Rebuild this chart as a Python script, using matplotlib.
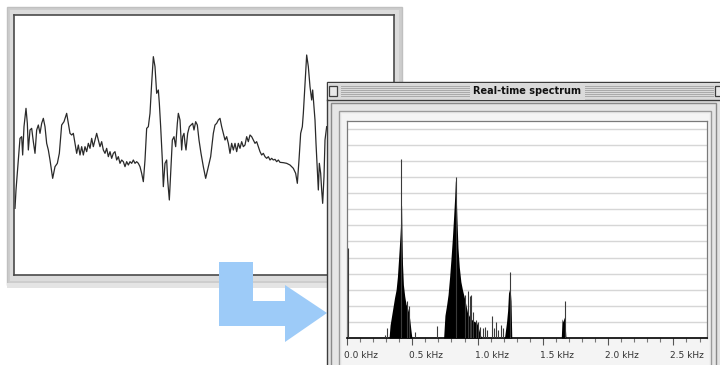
"""
Waveform window feeding a real-time spectrum window (illustration).
"""

import matplotlib
matplotlib.use("Agg")
import matplotlib.pyplot as plt
import matplotlib.transforms as mtrans
from matplotlib.patches import Rectangle, Polygon

W, H = 720, 365

# --- waveform (sample index, amplitude) ---
wave_t = [45, 48, 55, 60, 65, 68, 72, 78, 82, 85, 90, 95, 100, 105, 110, 115, 120, 125,
          130, 135, 140, 145, 150, 158, 165, 172, 178, 185, 192, 200, 205, 210, 215, 220,
          225, 230, 235, 240, 245, 250, 255, 260, 265, 270, 275, 280, 285, 290, 295, 300,
          305, 310, 315, 320, 325, 330, 335, 340, 345, 350, 355, 360, 365, 370, 375, 380,
          385, 390, 395, 400, 405, 410, 415, 420, 425, 430, 435, 440, 445, 450, 455, 460,
          465, 470, 475, 478, 482, 487, 490, 495, 500, 503, 508, 512, 517, 522, 527, 532,
          535, 540, 545, 548, 552, 555, 558, 563, 568, 573, 578, 582, 587, 592, 597, 603,
          610, 617, 625, 632, 640, 645, 650, 655, 660, 665, 670, 675, 680, 685, 690, 695,
          700, 705, 710, 715, 720, 725, 730, 735, 740, 745, 750, 755, 760, 765, 770, 775,
          780, 785, 790, 795, 800, 805, 810, 815, 820, 825, 830, 835, 840, 850, 860, 870,
          880, 887, 892, 897, 902, 907, 910, 915, 920, 925, 930, 935, 938, 942, 945, 948,
          952, 955, 958, 962, 965, 968, 972, 975, 980]
wave_amp = [-175, -120, -30, 35, 40, -15, 70, 125, 80, 0, 60, 65, 25, -10, 60, 75, 50, 80,
            95, 70, 20, 0, -30, -85, -50, -40, -10, 75, 85, 110, 80, 50, 45, 50,
            20, -10, 15, -15, 10, -15, 10, -5, 20, 5, 35, 10, 30, 50, 30, 10,
            25, 0, -10, 5, -20, -5, -25, -10, -5, -30, -20, -40, -30, -35, -50, -35,
            -45, -35, -40, -30, -40, -35, -40, -50, -70, -95, -30, 65, 70, 110, 200, 280,
            250, 170, 180, 140, 70, -30, -110, -40, -30, -90, -150, -70, 30, 40, 10, 80,
            110, 90, 0, 40, 50, 20, 0, 50, 70, 75, 80, 60, 85, 75, 30, -10,
            -50, -85, -50, -20, 50, 75, 80, 90, 95, 70, 50, 30, 40, 20, -10, 20,
            0, 20, -5, 20, 5, 25, 10, 15, 40, 25, 45, 40, 30, 20, 25, 10,
            -5, -15, -10, -20, -25, -20, -30, -25, -30, -28, -35, -30, -37, -38, -40, -45,
            -55, -70, -100, -30, 50, 70, 110, 200, 285, 250, 190, 150, 180, 130, 90, 20,
            -60, -120, -40, -70, -120, -160, -80, 30, 70]

# --- spectrum: filled peaks (kHz, level) ---
peak1_f = [0.322, 0.330, 0.340, 0.352, 0.364, 0.376, 0.386, 0.394, 0.401, 0.406, 0.411,
           0.414, 0.418, 0.421, 0.425, 0.432, 0.442, 0.452, 0.462, 0.472, 0.480, 0.488,
           0.497]
peak1_h = [0.0, 0.8, 1.3, 1.9, 2.5, 3.0, 3.8, 4.8, 5.7, 6.4, 7.2,
           8.4, 8.2, 6.4, 4.6, 3.3, 2.6, 2.1, 1.9, 1.6, 1.2, 0.6,
           0.0]
peak2_f = [0.740, 0.750, 0.762, 0.774, 0.786, 0.797, 0.807, 0.817, 0.825, 0.830, 0.836,
           0.842, 0.850, 0.860, 0.872, 0.884, 0.896, 0.910, 0.922, 0.940, 0.961, 0.979,
           0.991, 1.004, 1.017, 1.030]
peak2_h = [0.0, 1.4, 2.0, 2.7, 3.8, 5.0, 6.2, 7.6, 8.8, 9.8, 9.0,
           7.4, 5.6, 4.4, 3.5, 3.0, 2.6, 2.1, 1.6, 1.3, 1.1, 1.0,
           1.0, 0.7, 0.3, 0.0]
peak3_f = [1.206, 1.214, 1.222, 1.230, 1.237, 1.244, 1.250, 1.256, 1.262]
peak3_h = [0.0, 0.5, 1.0, 1.7, 2.8, 3.0, 3.0, 2.3, 0.0]
peak4_f = [1.641, 1.647, 1.654, 1.662, 1.670, 1.677]
peak4_h = [0.0, 1.2, 1.0, 1.3, 0.9, 0.0]

# --- spectrum: single spikes (kHz, level) ---
spike_f = [0.004, 0.289, 0.309, 0.416, 0.460, 0.475, 0.524, 0.692, 0.833, 0.900, 0.925,
           0.940, 0.953, 0.966, 0.986, 1.000, 1.020, 1.040, 1.060, 1.075, 1.110, 1.125,
           1.140, 1.160, 1.178, 1.196, 1.250, 1.668]
spike_h = [5.6, 0.2, 0.6, 11.1, 2.3, 2.0, 0.4, 0.77, 10.0, 2.7, 2.9,
           2.6, 2.7, 1.6, 1.1, 1.0, 0.7, 0.6, 0.7, 0.5, 1.35, 0.6,
           1.0, 0.5, 0.8, 0.6, 4.1, 2.3]

tick_khz = [0.0, 0.5, 1.0, 1.5, 2.0, 2.5]
tick_labels = ["0.0 kHz", "0.5 kHz", "1.0 kHz", "1.5 kHz", "2.0 kHz", "2.5 kHz"]

NARROW = ["Liberation Sans Narrow", "DejaVu Sans"]


def px_rect(x0, y0, x1, y1):
    """Pixel box (top-left origin) -> figure fraction rect."""
    return [x0 / W, 1 - y1 / H, (x1 - x0) / W, (y1 - y0) / H]


def overlay(fig, z):
    ax = fig.add_axes([0, 0, 1, 1])
    ax.set_xlim(0, W)
    ax.set_ylim(H, 0)
    ax.axis("off")
    ax.patch.set_alpha(0)
    ax.set_zorder(z)
    return ax


def box(ax, x0, y0, x1, y1, **kw):
    ax.add_patch(Rectangle((x0, y0), x1 - x0, y1 - y0, **kw))


fig = plt.figure(figsize=(W / 100, H / 100), dpi=100, facecolor="white")

# left window frame
back = overlay(fig, 0)
box(back, 7, 7, 402, 285, facecolor="#cdcdcd", edgecolor="#c0c0c0", lw=1)
box(back, 10, 10, 399, 281, facecolor="#dcdcdc", edgecolor="none")
box(back, 7, 283, 402, 288, facecolor="#e4e4e4", edgecolor="none")

# waveform
ax_w = fig.add_axes(px_rect(14, 15, 394, 275))
ax_w.set_zorder(1)
ax_w.plot(wave_t, wave_amp, color="#2a2a2a", lw=0.9)
ax_w.set_xlim(42, 1182)
ax_w.set_ylim(-375, 405)
ax_w.set_xticks([])
ax_w.set_yticks([])
for s in ax_w.spines.values():
    s.set_color("#4a4a4a")
    s.set_linewidth(1.2)

# spectrum window chrome + arrow
front = overlay(fig, 3)
arrow = [(219, 262), (253, 262), (253, 301), (285, 301), (285, 285), (327, 313),
         (285, 342), (285, 326), (219, 326)]
front.add_patch(Polygon(arrow, closed=True, facecolor="#9dcbf8", edgecolor="none"))

box(front, 327, 82, 722, 368, facecolor="#e2e2e2", edgecolor="#3c3c3c", lw=1)
box(front, 328, 83, 722, 99, facecolor="#dadada", edgecolor="none")
for y in range(86, 98, 2):
    front.plot([341, 713], [y, y], color="#a9a9a9", lw=0.7)
box(front, 329, 86, 337, 96, facecolor="#e8e8e8", edgecolor="#3c3c3c", lw=0.9)
box(front, 715, 86, 722, 96, facecolor="#e8e8e8", edgecolor="#3c3c3c", lw=0.9)
front.plot([327, 720], [99.5, 99.5], color="#3c3c3c", lw=1)
front.text(527, 91.5, "Real-time spectrum", ha="center", va="center", fontsize=7,
           fontweight="bold", color="#111111", family=NARROW,
           bbox=dict(facecolor="#dadada", edgecolor="none", pad=2.5))
box(front, 331, 103, 716, 368, facecolor="#e6e6e6", edgecolor="#8a8a8a", lw=1)
box(front, 339, 111, 711, 368, facecolor="#efefef", edgecolor="#9a9a9a", lw=1)
box(front, 342, 114, 709, 368, facecolor="#f4f4f4", edgecolor="none")

# spectrum plot
ax_s = fig.add_axes(px_rect(347, 121, 707, 338))
ax_s.set_zorder(4)
ax_s.set_facecolor("white")
ax_s.set_xlim(0, 2.757)
ax_s.set_ylim(0, 13.48)
for lvl in range(1, 14):
    ax_s.axhline(lvl, color="#d6d6d6", lw=1, zorder=0)
for f, h in [(peak1_f, peak1_h), (peak2_f, peak2_h), (peak3_f, peak3_h), (peak4_f, peak4_h)]:
    ax_s.fill_between(f, 0, h, color="black", lw=0, zorder=2)
ax_s.vlines(spike_f, 0, spike_h, color="#3a3a3a", lw=0.8, zorder=3)

ax_s.set_yticks([])
ax_s.set_xticks(tick_khz)
ax_s.set_xticklabels(tick_labels, family=NARROW)
ax_s.set_xticks([i / 10 for i in range(28)], minor=True)
ax_s.tick_params(axis="x", which="major", length=5, width=0.8, color="#555555",
                 labelsize=6.5, labelcolor="#333333", pad=4)
ax_s.tick_params(axis="x", which="minor", length=3, width=0.8, color="#777777")
offset = mtrans.ScaledTranslation(-3 / 100, 0, fig.dpi_scale_trans)
for lab in ax_s.get_xticklabels():
    lab.set_horizontalalignment("left")
    lab.set_transform(lab.get_transform() + offset)
ax_s.spines["bottom"].set_color("black")
ax_s.spines["bottom"].set_linewidth(1.2)
for side in ("top", "right", "left"):
    ax_s.spines[side].set_color("#7a7a7a")
    ax_s.spines[side].set_linewidth(0.9)

fig.savefig("out.png", dpi=100, facecolor="white")
